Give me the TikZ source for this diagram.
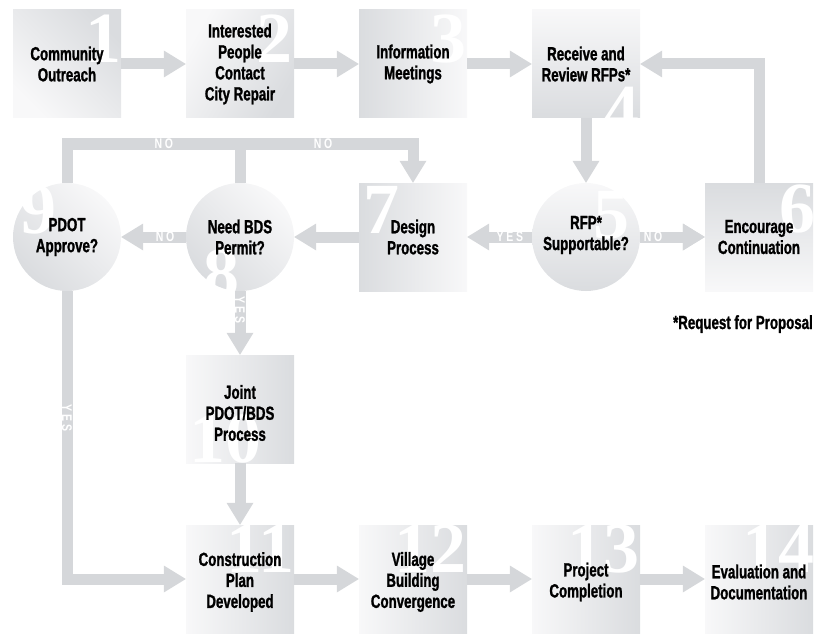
\documentclass[tikz,border=0pt]{standalone}
\usepackage{fontspec}
\newfontfamily\condfont[FakeStretch=0.7,BoldFeatures={FakeBold=1.2}]{Liberation Sans}
\newfontfamily\lblfont[FakeStretch=0.75,LetterSpace=20]{Liberation Sans}
\newfontfamily\numfont{Liberation Serif}
\usetikzlibrary{arrows.meta,positioning}
\definecolor{shlite}{RGB}{248,248,249}
\definecolor{shdark}{RGB}{218,220,223}
\definecolor{bargray}{RGB}{213,215,218}

\begin{document}
\begin{tikzpicture}[x=1pt,y=-1pt,
  box/.style={rectangle,minimum size=108pt,inner sep=0pt,shading=axis,top color=shdark,bottom color=shlite,shading angle=#1},
  box/.default=0,
  dec/.style={box=#1,circle},
  txt/.style={font=\condfont\bfseries\fontsize{19}{21}\selectfont,align=center,text=black,inner sep=0pt},
  num/.style={font=\numfont\bfseries\fontsize{72}{72}\selectfont,text=white,inner sep=0pt,anchor=base east},
  bar/.style={draw=bargray,line width=11pt},
  flow/.style={bar,-{Triangle[width=27pt,length=22pt,line width=0pt]}},
  lbl/.style={font=\lblfont\bfseries\fontsize{14}{14}\selectfont,text=white,inner sep=0pt}]
  \useasboundingbox (0,0) rectangle (815,634);
  \foreach \n/\x/\y/\a in {b1/67/64/-45,b2/240/64/-120,b3/413/64/90,b4/586/64/180,
    b7/413/237/90,b6/759/237/0,b10/240/409/-90,
    b11/240/579/-90,b12/413/579/-90,b13/586/579/-90,b14/759/579/-90}
    \node[box=\a] (\n) at (\x,\y) {};
  \foreach \n/\x/\a in {c9/67/135,c8/240/135,c5/586/180}
    \node[dec=\a] (\n) at (\x,237) {};
  \foreach \d/\x/\y in {1/122/63,2/293/63,3/467/63,4/640/135,5/630/238,6/816/232,7/400/233,
    8/240/297,9/57/233,10/262/462,11/295/572,12/467/572,13/640/572,14/815/572}
    \node[num] at (\x,\y) {\d};
  \node[txt] (t1) at (b1) {Community\\Outreach};
  \node[txt] (t2) at (b2) {Interested\\People\\Contact\\City Repair};
  \node[txt] (t3) at (b3) {Information\\Meetings};
  \node[txt] (t4) at (b4) {Receive and\\Review RFPs*};
  \node[txt] (t5) at ([yshift=2pt]c5) {RFP*\\Supportable?};
  \node[txt] (t6) at (b6) {Encourage\\Continuation};
  \node[txt] (t7) at (b7) {Design\\Process};
  \node[txt] (t8) at (c8) {Need BDS\\Permit?};
  \node[txt] (t9) at (c9) {PDOT\\Approve?};
  \node[txt] (t10) at ([yshift=-4pt]b10) {Joint\\PDOT/BDS\\Process};
  \node[txt] (t11) at ([yshift=-3pt]b11) {Construction\\Plan\\Developed};
  \node[txt] (t12) at ([yshift=-3pt]b12) {Village\\Building\\Convergence};
  \node[txt] (t13) at ([yshift=-3pt]b13) {Project\\Completion};
  \node[txt] (t14) at ([yshift=-3pt]b14) {Evaluation and\\Documentation};
  \node[txt,anchor=base east] (note) at (813,329) {*Request for Proposal};
  \coordinate (jn) at (240,144);
  \foreach \s/\t in {b1/b2,b2/b3,b3/b4,b4/c5,c5/b6,b7/c8,b10/b11,b11/b12,b12/b13,b13/b14}
    \draw[flow] (\s) -- (\t);
  \draw[flow] (b6) |- (b4);
  \draw[flow] (c5) -- (b7) node[lbl,pos=0.34] {YES};
  \draw[flow] (c5) -- (b6) node[lbl,pos=0.2] {NO};
  \draw[flow] (c8) -- (c9) node[lbl,pos=0.32] {NO};
  \draw[flow] (c8) -- (b10) node[lbl,rotate=-90,pos=0.3] {YES};
  \draw[flow] (c9) |- (b11) node[lbl,rotate=-90,pos=0.22] {YES};
  \draw[bar] (c9) |- (jn) node[lbl,pos=0.78] {NO};
  \draw[bar] (c8) -- (jn);
  \draw[flow] (jn) -| (b7) node[lbl,pos=0.24] {NO};
\end{tikzpicture}
\end{document}
